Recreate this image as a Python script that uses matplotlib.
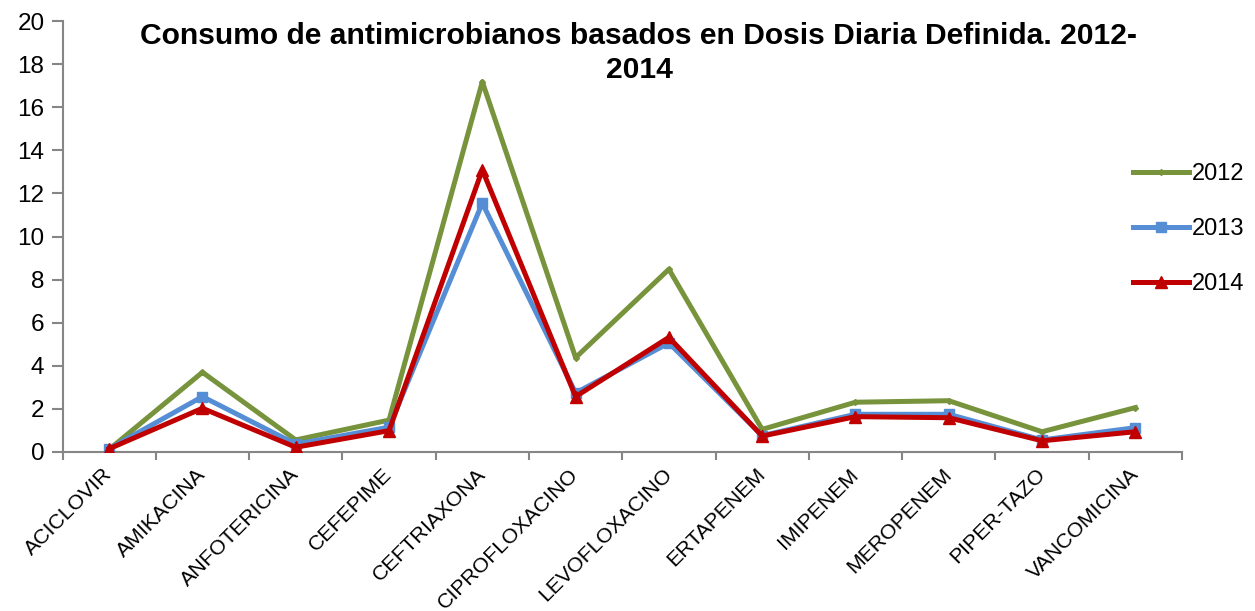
import matplotlib
matplotlib.use("Agg")
import matplotlib.pyplot as plt
import numpy as np

plt.rcParams['font.family'] = ['Liberation Sans', 'DejaVu Sans']

categories = ["ACICLOVIR", "AMIKACINA", "ANFOTERICINA", "CEFEPIME", "CEFTRIAXONA",
              "CIPROFLOXACINO", "LEVOFLOXACINO", "ERTAPENEM", "IMIPENEM", "MEROPENEM",
              "PIPER-TAZO", "VANCOMICINA"]
v2012 = [0.12, 3.70, 0.56, 1.48, 17.18, 4.38, 8.48, 1.05, 2.31, 2.38, 0.94, 2.06]
v2013 = [0.15, 2.57, 0.37, 1.15, 11.55, 2.74, 5.06, 0.76, 1.75, 1.75, 0.56, 1.13]
v2014 = [0.15, 2.03, 0.22, 0.99, 13.09, 2.57, 5.32, 0.74, 1.64, 1.59, 0.52, 0.94]
years = ["2012", "2013", "2014"]
yticks = list(range(0, 21, 2))

title = "Consumo de antimicrobianos basados en Dosis Diaria Definida. 2012-\n2014"

fig = plt.figure(figsize=(12.55, 6.11), dpi=100)
ax = fig.add_axes([62.5/1255, 1-452/611, (1182-62.5)/1255, (452-21)/611])

x = np.arange(len(categories))
ax.plot(x, v2012, color='#77933C', lw=3.6, marker='D', ms=3, label=years[0], zorder=3)
ax.plot(x, v2013, color='#558ED5', lw=3.6, marker='s', ms=7, label=years[1], zorder=4)
ax.plot(x, v2014, color='#C00000', lw=3.6, marker='^', ms=8, label=years[2], zorder=5)

ax.set_xlim(-0.5, len(categories) - 0.5)
ax.set_ylim(0, 20)
ax.set_yticks(yticks)
ax.set_yticklabels([str(t) for t in yticks], fontsize=17.5)

ax.set_xticks(np.arange(-0.5, len(categories), 1.0))
ax.set_xticklabels([])
ax.set_xticks(x, minor=True)
ax.set_xticklabels(categories, minor=True, rotation=45, ha='right', va='center',
                   rotation_mode='anchor', fontsize=15.3)
ax.tick_params(axis='x', which='minor', length=0, pad=14)
ax.tick_params(axis='x', which='major', length=6, color='#868686', width=1.5, direction='out')
ax.tick_params(axis='y', length=8, color='#868686', width=1.5, direction='out', pad=5)

for s in ['top', 'right']:
    ax.spines[s].set_visible(False)
for s in ['left', 'bottom']:
    ax.spines[s].set_color('#868686')
    ax.spines[s].set_linewidth(1.5)

fig.text(639/1255, 1-22/611, title, ha='center', va='top', fontsize=21.6,
         fontweight='bold', linespacing=1.28)

handles, labels = ax.get_legend_handles_labels()
fig.legend(handles, labels, loc='center left', bbox_to_anchor=(1124/1255, 1-229/611),
           frameon=False, fontsize=17, labelspacing=1.4, handlelength=2.35,
           handletextpad=0.12, borderaxespad=0)

fig.savefig("out.png", dpi=100)
